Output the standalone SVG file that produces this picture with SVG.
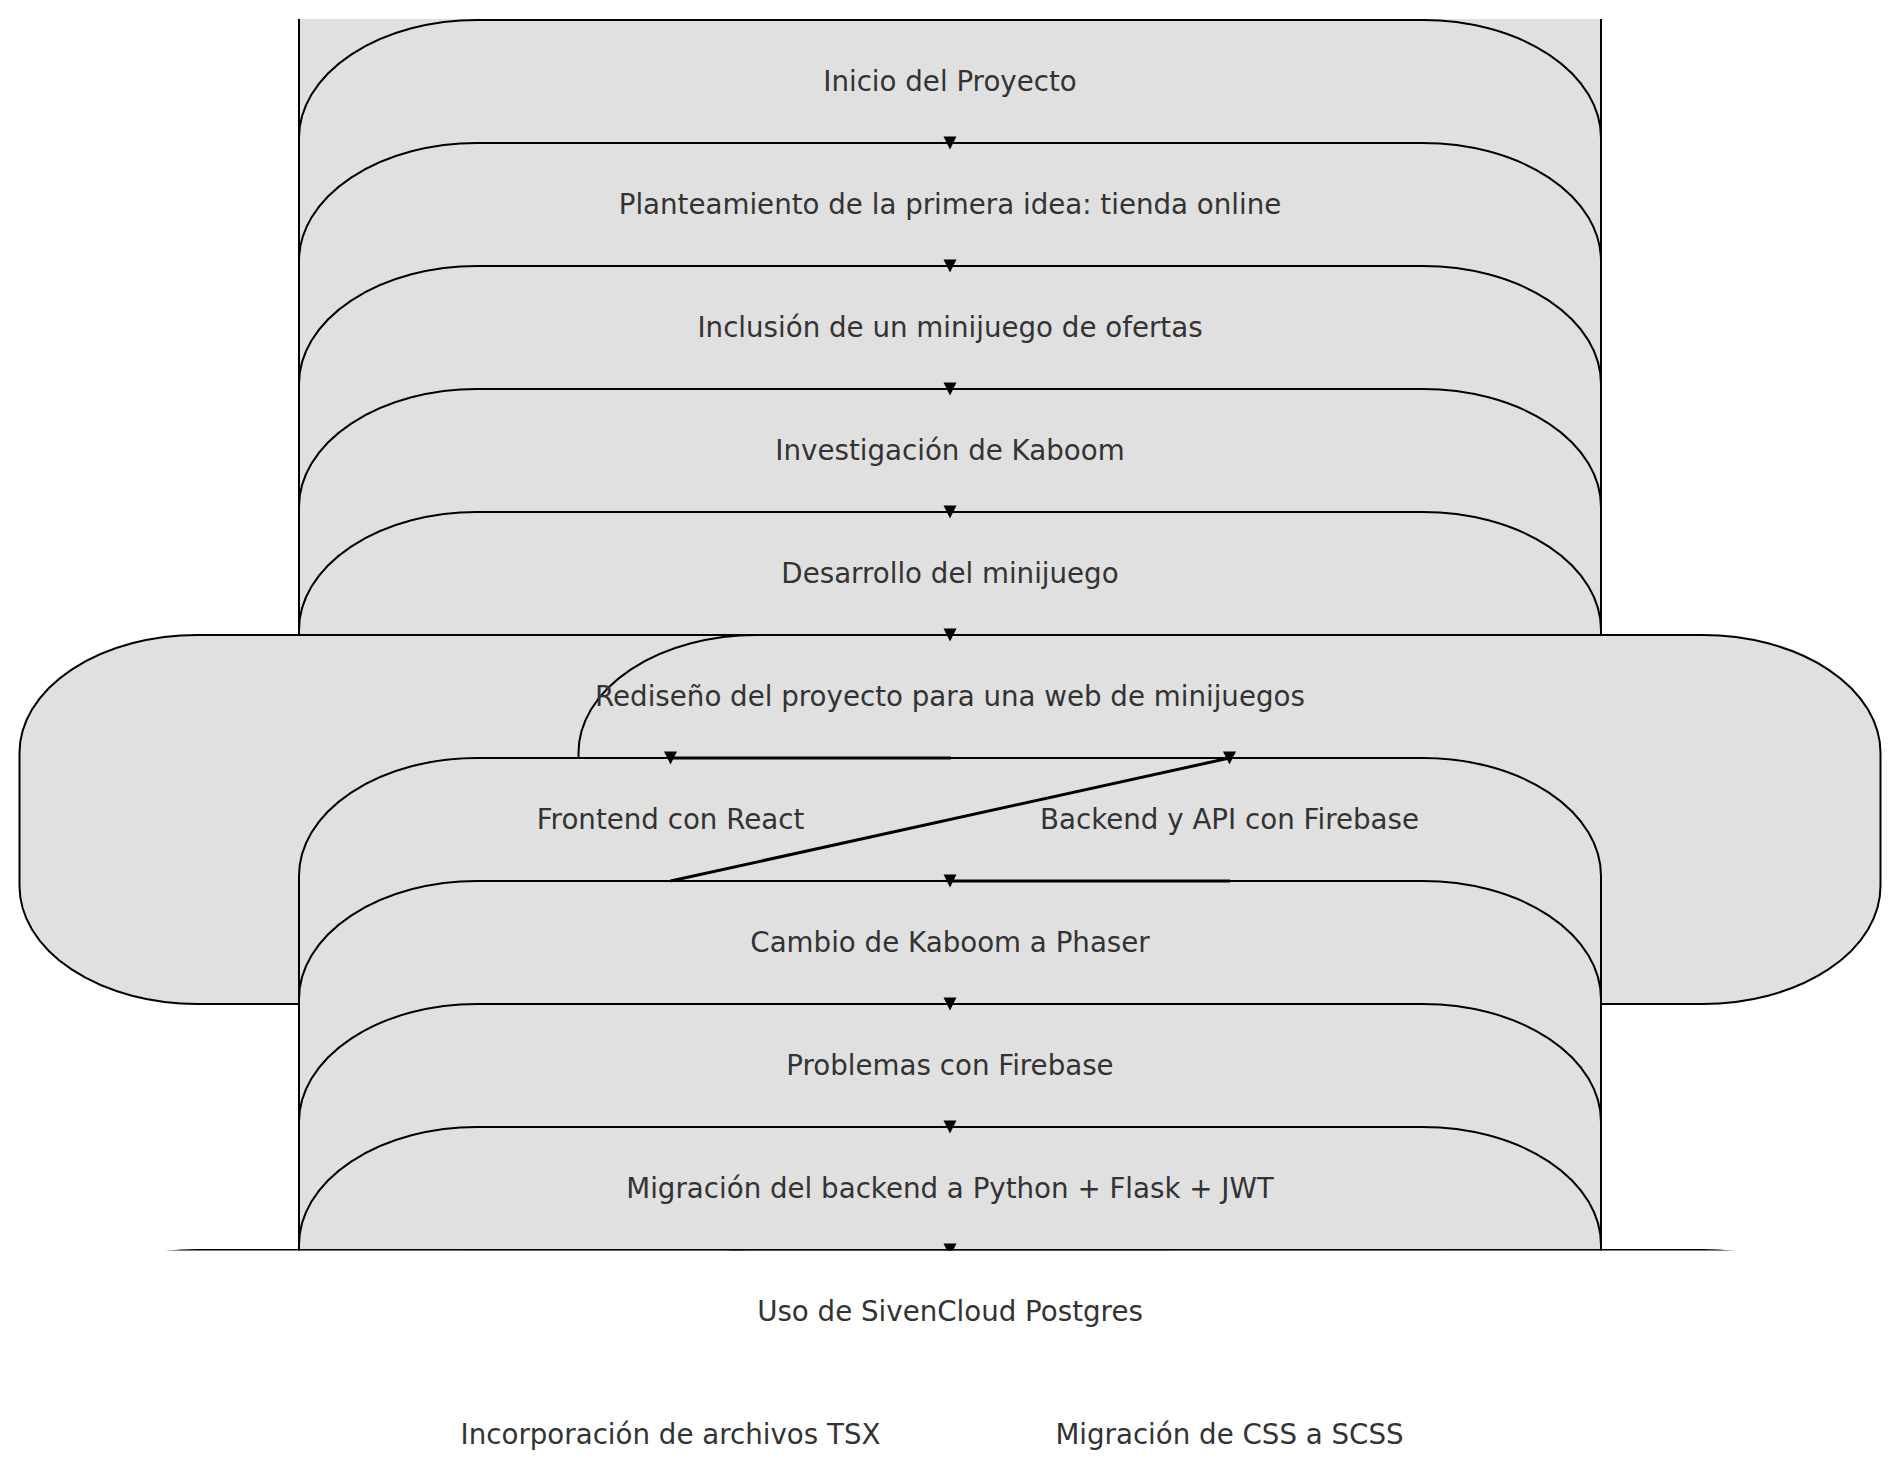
<svg xmlns="http://www.w3.org/2000/svg" xmlns:xlink="http://www.w3.org/1999/xlink" width="1900" height="1471" viewBox="0 0 1900 1471">
  <style>
    .node { fill: #e0e0e0; stroke: #000000; stroke-width: 2; }
    .edge { fill: none; stroke: #000000; stroke-width: 3; }
    .label { font-family: "DejaVu Sans", "Liberation Sans", sans-serif; font-size: 27.7px; fill: #333333; text-anchor: middle; }
  </style>
  <defs>
    <clipPath id="view">
      <rect x="0" y="19" width="1900" height="1231.4"/>
    </clipPath>
    <path id="ah" d="M -6.5 -6.5 L 6.5 -6.5 L 0 6.5 Z" fill="#000000"/>
  </defs>
  <rect x="0" y="0" width="1900" height="1471" fill="#ffffff"/>
  <g id="nodes" clip-path="url(#view)">
    <g id="n-inicio"><rect class="node" x="299" y="-103" width="1302" height="369" rx="178" ry="118"/></g>
    <g id="n-planteamiento"><rect class="node" x="299" y="20" width="1302" height="369" rx="178" ry="118"/></g>
    <g id="n-inclusion"><rect class="node" x="299" y="143" width="1302" height="369" rx="178" ry="118"/></g>
    <g id="n-investigacion"><rect class="node" x="299" y="266" width="1302" height="369" rx="178" ry="118"/></g>
    <g id="n-desarrollo"><rect class="node" x="299" y="389" width="1302" height="369" rx="178" ry="118"/></g>
    <g id="n-rediseno"><rect class="node" x="299" y="512" width="1302" height="369" rx="178" ry="118"/></g>
    <g id="n-frontend"><rect class="node" x="19.5" y="635" width="1302" height="369" rx="178" ry="118"/></g>
    <g id="n-backend"><rect class="node" x="578.5" y="635" width="1302" height="369" rx="178" ry="118"/></g>
    <g id="n-cambio"><rect class="node" x="299" y="758" width="1302" height="369" rx="178" ry="118"/></g>
    <g id="n-problemas"><rect class="node" x="299" y="881" width="1302" height="369" rx="178" ry="118"/></g>
    <g id="n-migracion"><rect class="node" x="299" y="1004" width="1302" height="369" rx="178" ry="118"/></g>
    <g id="n-uso"><rect class="node" x="299" y="1127" width="1302" height="369" rx="178" ry="118"/></g>
    <g id="n-tsx"><rect class="node" x="19.5" y="1250" width="1302" height="369" rx="178" ry="118"/></g>
    <g id="n-scss"><rect class="node" x="578.5" y="1250" width="1302" height="369" rx="178" ry="118"/></g>
  </g>
  <g id="connectors" clip-path="url(#view)">
    <path class="edge" d="M 951 758 L 670.5 758"/>
    <path class="edge" d="M 670.5 881 L 1229.5 758"/>
    <path class="edge" d="M 1230 881 L 950 881"/>
    <use xlink:href="#ah" x="950" y="143"/>
    <use xlink:href="#ah" x="950" y="266"/>
    <use xlink:href="#ah" x="950" y="389"/>
    <use xlink:href="#ah" x="950" y="512"/>
    <use xlink:href="#ah" x="950" y="635"/>
    <use xlink:href="#ah" x="670.5" y="758"/>
    <use xlink:href="#ah" x="1229.5" y="758"/>
    <use xlink:href="#ah" x="950" y="881"/>
    <use xlink:href="#ah" x="950" y="1004"/>
    <use xlink:href="#ah" x="950" y="1127"/>
    <use xlink:href="#ah" x="950" y="1250"/>
  </g>
  <g id="labels">
    <text class="label" x="950" y="91">Inicio del Proyecto</text>
    <text class="label" x="950" y="214">Planteamiento de la primera idea: tienda online</text>
    <text class="label" x="950" y="337">Inclusión de un minijuego de ofertas</text>
    <text class="label" x="950" y="460">Investigación de Kaboom</text>
    <text class="label" x="950" y="583">Desarrollo del minijuego</text>
    <text class="label" x="950" y="706">Rediseño del proyecto para una web de minijuegos</text>
    <text class="label" x="670.5" y="829">Frontend con React</text>
    <text class="label" x="1229.5" y="829">Backend y API con Firebase</text>
    <text class="label" x="950" y="952">Cambio de Kaboom a Phaser</text>
    <text class="label" x="950" y="1075">Problemas con Firebase</text>
    <text class="label" x="950" y="1198">Migración del backend a Python + Flask + JWT</text>
    <text class="label" x="950" y="1321">Uso de SivenCloud Postgres</text>
    <text class="label" x="670.5" y="1444">Incorporación de archivos TSX</text>
    <text class="label" x="1229.5" y="1444">Migración de CSS a SCSS</text>
  </g>
</svg>
